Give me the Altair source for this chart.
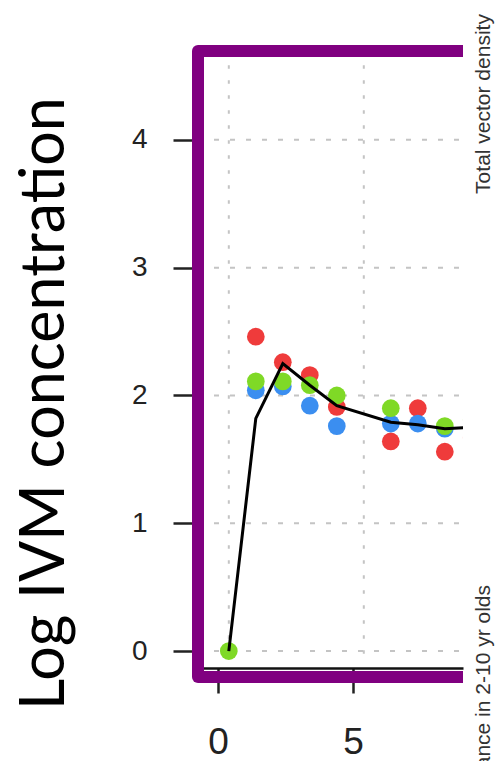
import altair as alt
import pandas as pd

# ---- data ----
days = [0.4, 1.4, 2.4, 3.4, 4.4, 6.4, 7.4, 8.4, 9.4]
red_vals = [None, 2.46, 2.26, 2.16, 1.91, 1.64, 1.90, 1.56, 1.67]
blue_vals = [None, 2.04, 2.07, 1.92, 1.76, 1.78, 1.78, 1.74, None]
green_vals = [0.0, 2.11, 2.11, 2.08, 2.00, 1.90, None, 1.76, 1.81]
fit_vals = [0.0, 1.82, 2.25, 2.08, 1.92, 1.79, 1.77, 1.74, 1.75]
series_names = ["red", "blue", "green"]
series_colors = ["#ef3b3b", "#3b8ef0", "#7fd926"]
y_ticks = [0, 1, 2, 3, 4]
x_ticks = [0, 5]
x_grid = [0.4, 5.4]
y_title = "Log IVM concentration"
right_top_label = "Total vector density"
right_bottom_label = "Prevalance in 2-10 yr olds"

W, H = 265, 626
PURPLE = "#800080"

rows = []
for name, vals in zip(series_names, [red_vals, blue_vals, green_vals]):
    for d, v in zip(days, vals):
        if v is not None:
            rows.append({"x": d, "y": v, "series": name})
pts = pd.DataFrame(rows)
fit = pd.DataFrame({"x": days, "y": fit_vals})

xscale = alt.Scale(domain=[-0.741, 9.074], nice=False, zero=False)
yscale = alt.Scale(domain=[-0.203, 4.695], nice=False, zero=False)

xaxis = alt.Axis(values=x_ticks, title=None, grid=False, offset=-9, format="d",
                 domain=True, domainColor="#111", domainWidth=2.5,
                 tickColor="#222", tickWidth=2.5, tickSize=25,
                 labelFont="Liberation Sans", labelFontSize=37, labelColor="#222",
                 labelPadding=31)
yaxis = alt.Axis(values=y_ticks, title=y_title, grid=False, domain=False, format="d",
                 tickColor="#222", tickWidth=2.5, tickSize=25,
                 labelFont="Liberation Sans", labelFontSize=28, labelColor="#222",
                 labelPadding=26,
                 titleFont="Lato", titleFontSize=61, titleFontWeight="normal",
                 titleColor="#000", titleAngle=270, titleAlign="center",
                 titleBaseline="alphabetic", titleX=-135, titleY=352)

X = alt.X("x:Q", scale=xscale, axis=xaxis)
Y = alt.Y("y:Q", scale=yscale, axis=yaxis)

hgrid = alt.Chart(pd.DataFrame({"y": y_ticks})).mark_rule(
    color="#c4c4c4", strokeWidth=2, strokeDash=[5, 11], clip=True
).encode(y=Y, x=alt.value(0), x2=alt.value(W))

vgrid = alt.Chart(pd.DataFrame({"x": x_grid})).mark_rule(
    color="#c4c4c4", strokeWidth=2, strokeDash=[3.5, 11.5], clip=True
).encode(x=X, y=alt.datum(4.7), y2=alt.datum(-0.05))

points = alt.Chart(pts).mark_circle(size=314, opacity=1, clip=True).encode(
    x=X, y=Y,
    color=alt.Color("series:N", scale=alt.Scale(domain=series_names, range=series_colors), legend=None),
)

line = alt.Chart(fit).mark_line(color="#000", strokeWidth=3, clip=True).encode(x=X, y=Y)

one = pd.DataFrame({"k": [0]})
frame_left = alt.Chart(one).mark_rule(color=PURPLE, strokeWidth=12, strokeCap="round").encode(
    x=alt.value(0), y=alt.value(0), y2=alt.value(H))
frame_top = alt.Chart(one).mark_rule(color=PURPLE, strokeWidth=12, strokeCap="butt").encode(
    x=alt.value(0), x2=alt.value(W), y=alt.value(0))
frame_bottom = alt.Chart(one).mark_rule(color=PURPLE, strokeWidth=12, strokeCap="butt").encode(
    x=alt.value(0), x2=alt.value(W), y=alt.value(H))

txt_top = alt.Chart(pd.DataFrame({"t": [right_top_label]})).mark_text(
    angle=270, align="center", baseline="alphabetic", font="Liberation Sans",
    fontSize=21, color="#333").encode(x=alt.value(292), y=alt.value(53), text="t:N")
txt_bottom = alt.Chart(pd.DataFrame({"t": [right_bottom_label]})).mark_text(
    angle=270, align="right", baseline="alphabetic", font="Liberation Sans",
    fontSize=21, color="#333").encode(x=alt.value(292), y=alt.value(534), text="t:N")

chart = alt.layer(
    hgrid, vgrid, points, line, frame_left, frame_top, frame_bottom, txt_top, txt_bottom
).properties(
    width=W, height=H,
    autosize=alt.AutoSizeParams(type="none"),
    padding={"left": 198, "top": 51, "right": 495 - 198 - W, "bottom": 761 - 51 - H},
    background="white",
).configure_view(stroke=None)

chart.save("out.html", embed_options={"renderer": "svg", "actions": False})
